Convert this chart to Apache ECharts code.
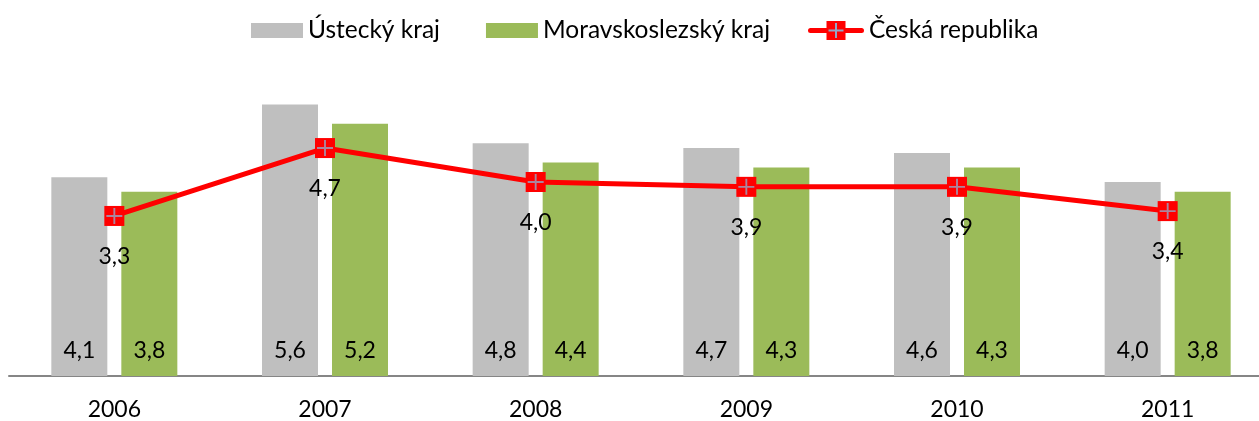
<!DOCTYPE html>
<html>
<head>
<meta charset="utf-8">
<script src="https://cdn.jsdelivr.net/npm/echarts@6/dist/echarts.min.js"></script>
<style>
  html, body { margin: 0; padding: 0; background: #fff; overflow: hidden; }
  /* plot runs slightly past the right edge of the window, so the last category is cut */
  #chart { width: 1273px; height: 421px; }
</style>
</head>
<body>
<div id="chart"></div>
<script>
// Years on the category axis
const years = ['2006', '2007', '2008', '2009', '2010', '2011'];
// Series values
const usteckyKraj = [4.1, 5.6, 4.8, 4.7, 4.6, 4.0];
const moravskoslezskyKraj = [3.8, 5.2, 4.4, 4.3, 4.3, 3.8];
const ceskaRepublika = [3.3, 4.7, 4.0, 3.9, 3.9, 3.4];

const FONT = 'Lato, "Open Sans", sans-serif';
const FS = 23;
const LEGEND_FS = 24.5;
const fmt = p => p.value.toFixed(1).replace('.', ',');

// Legend icon for the national line: red line, red square, grey-blue cross
const lineIconSvg =
  '<svg xmlns="http://www.w3.org/2000/svg" width="56" height="21" viewBox="0 0 56 21">' +
  '<line x1="2.5" y1="10.5" x2="53.5" y2="10.5" stroke="#FF0000" stroke-width="5" stroke-linecap="round"/>' +
  '<rect x="18.5" y="1" width="19" height="19" fill="#FF0000"/>' +
  '<line x1="28" y1="3" x2="28" y2="18" stroke="#95A6C6" stroke-width="2"/>' +
  '<line x1="20.5" y1="10.5" x2="35.5" y2="10.5" stroke="#95A6C6" stroke-width="2"/>' +
  '</svg>';
const lineIcon = 'image://data:image/svg+xml;charset=utf-8,' + encodeURIComponent(lineIconSvg);

const chart = echarts.init(document.getElementById('chart'), null, { renderer: 'canvas' });

chart.setOption({
  animation: false,
  textStyle: { fontFamily: FONT, color: '#000' },
  legend: [
    {
      data: ['Ústecký kraj', 'Moravskoslezský kraj'],
      left: 251,
      top: 18,
      padding: 0,
      itemWidth: 52,
      itemHeight: 15,
      itemGap: 46,
      icon: 'rect',
      textStyle: { fontFamily: FONT, fontSize: LEGEND_FS, color: '#000' },
      selectedMode: false
    },
    {
      data: [{ name: 'Česká republika', icon: lineIcon }],
      left: 808,
      top: 18,
      padding: 0,
      itemWidth: 56,
      itemHeight: 21,
      textStyle: { fontFamily: FONT, fontSize: LEGEND_FS, color: '#000' },
      selectedMode: false
    }
  ],
  grid: { left: 9, right: 0, top: 85, height: 291, containLabel: false },
  xAxis: {
    type: 'category',
    data: years,
    axisTick: { show: false },
    axisLine: { lineStyle: { color: '#868686', width: 2 } },
    axisLabel: { fontFamily: FONT, fontSize: FS, color: '#000', margin: 22 }
  },
  yAxis: {
    type: 'value',
    min: 0,
    max: 6,
    show: false,
    splitLine: { show: false }
  },
  series: [
    {
      name: 'Ústecký kraj',
      type: 'bar',
      data: usteckyKraj,
      barWidth: 56,
      barGap: '25%',
      itemStyle: { color: '#BFBFBF' },
      label: {
        show: true, position: 'insideBottom', distance: 14,
        fontFamily: FONT, fontSize: FS, color: '#000', formatter: fmt
      }
    },
    {
      name: 'Moravskoslezský kraj',
      type: 'bar',
      data: moravskoslezskyKraj,
      barWidth: 56,
      barGap: '25%',
      itemStyle: { color: '#9BBB59' },
      label: {
        show: true, position: 'insideBottom', distance: 14,
        fontFamily: FONT, fontSize: FS, color: '#000', formatter: fmt
      }
    },
    {
      name: 'Česká republika',
      type: 'line',
      data: ceskaRepublika,
      symbol: 'rect',
      symbolSize: 20,
      z: 3,
      lineStyle: { color: '#FF0000', width: 5 },
      itemStyle: { color: '#FF0000' },
      label: {
        show: true, position: 'bottom', distance: 19,
        fontFamily: FONT, fontSize: FS, color: '#000', formatter: fmt
      }
    },
    {
      // grey-blue cross drawn on top of each red square marker
      name: 'marker-cross',
      type: 'scatter',
      data: ceskaRepublika,
      symbol: 'path://M7.5,0h2v17h-2z M0,7.5h17v2h-17z',
      symbolSize: 16,
      z: 4,
      silent: true,
      itemStyle: { color: '#95A6C6' }
    }
  ]
});
</script>
</body>
</html>
